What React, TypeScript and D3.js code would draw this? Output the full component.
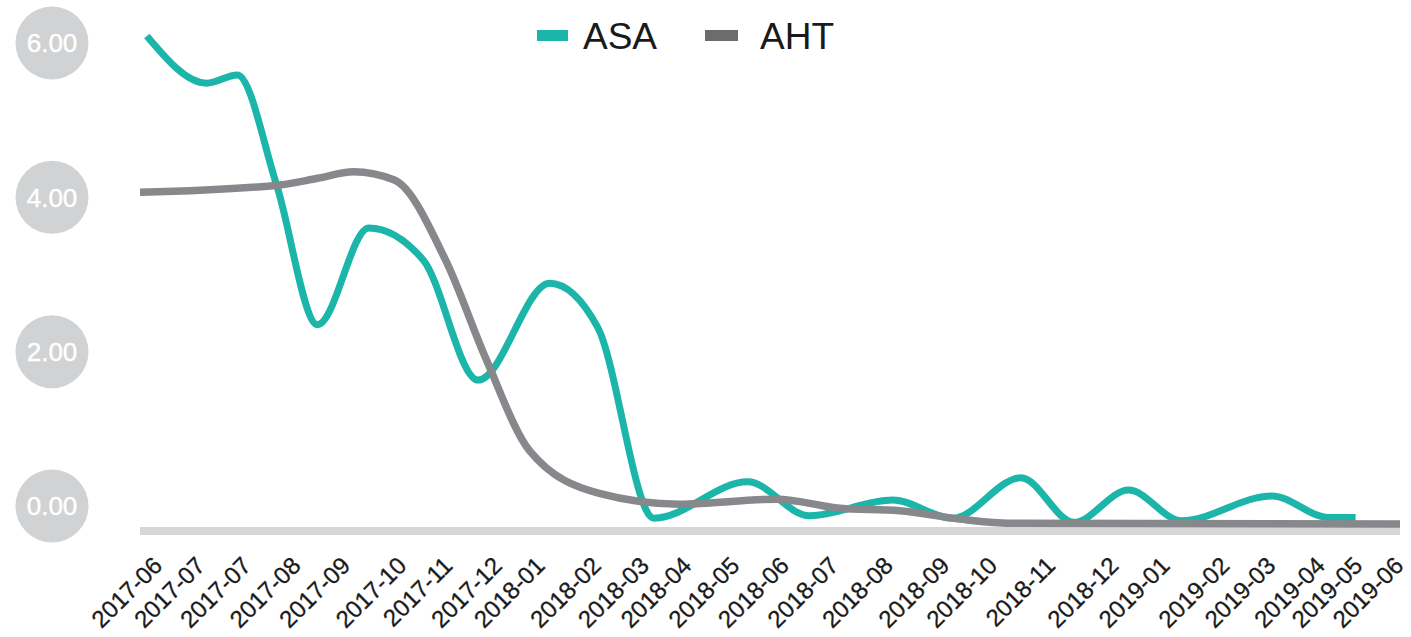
import React from "react";
import * as d3 from "d3";

// ---- data ----
const asaDates = [
  "2017-06-01", "2017-07-06", "2017-07-24", "2017-08-16", "2017-09-09",
  "2017-10-09", "2017-11-10", "2017-12-12", "2018-01-23", "2018-02-20",
  "2018-03-25", "2018-05-19", "2018-06-24", "2018-08-12", "2018-09-16",
  "2018-10-26", "2018-11-26", "2018-12-28", "2019-01-28", "2019-03-22",
  "2019-04-24", "2019-05-10",
];
const asaValues = [
  5.9, 5.33, 5.43, 4.1, 2.41,
  3.58, 3.19, 1.74, 2.91, 2.38,
  0.07, 0.51, 0.1, 0.29, 0.07,
  0.56, 0.02, 0.41, 0.04, 0.34,
  0.08, 0.08,
];
const ahtDates = [
  "2017-05-28", "2017-08-18", "2017-09-09", "2017-09-30", "2017-10-24",
  "2017-11-23", "2017-12-17", "2018-01-11", "2018-02-21", "2018-04-09",
  "2018-06-05", "2018-07-12", "2018-08-16", "2018-09-20", "2018-10-20",
  "2019-06-05",
];
const ahtValues = [
  4.01, 4.1, 4.18, 4.26, 4.16,
  3.19, 1.98, 0.89, 0.37, 0.24,
  0.3, 0.19, 0.16, 0.06, 0.01,
  0.0,
];
const tickDates = [
  "2017-06-08", "2017-07-03", "2017-07-30", "2017-08-28", "2017-09-26",
  "2017-10-29", "2017-11-25", "2017-12-24", "2018-01-18", "2018-02-20",
  "2018-03-20", "2018-04-14", "2018-05-12", "2018-06-10", "2018-07-09",
  "2018-08-10", "2018-09-12", "2018-10-10", "2018-11-13", "2018-12-20",
  "2019-01-19", "2019-02-23", "2019-03-22", "2019-04-20", "2019-05-12",
  "2019-06-05",
];
const yTickValues = [0, 2, 4, 6];
const seriesNames = ["ASA", "AHT"];
const seriesColors = ["#1bb5a9", "#87888b"];
const legendSwatchColors = ["#1bb5a9", "#6b6c6e"];

const W = 1411;
const H = 637;
const FONT = "'Liberation Sans', Arial, Helvetica, sans-serif";

const parse = d3.timeParse("%Y-%m-%d");
const fmt = d3.timeFormat("%Y-%m");

export default function App() {
  const x = d3
    .scaleTime()
    .domain([parse("2017-05-28") as Date, parse("2019-06-05") as Date])
    .range([140, 1400]);
  const y = d3.scaleLinear().domain([0, 6]).range([524, 27.8]);
  const yLabel = d3.scaleLinear().domain([0, 6]).range([506, 43]);

  const line = d3
    .line<[Date, number]>()
    .x((d) => x(d[0]))
    .y((d) => y(d[1]))
    .curve(d3.curveMonotoneX);

  const asa: [Date, number][] = asaDates.map((d, i) => [parse(d) as Date, asaValues[i]]);
  const aht: [Date, number][] = ahtDates.map((d, i) => [parse(d) as Date, ahtValues[i]]);
  const [x0, x1] = x.range();

  const legend = [
    { name: seriesNames[0], color: legendSwatchColors[0], sx: 537, sw: 31, tx: 583 },
    { name: seriesNames[1], color: legendSwatchColors[1], sx: 705, sw: 33, tx: 760 },
  ];

  return (
    <svg
      width={W}
      height={H}
      style={{ position: "absolute", left: 0, top: 0, background: "#fff" }}
      fontFamily={FONT}
    >
      {/* y tick bubbles */}
      {yTickValues.map((v) => (
        <g key={v} transform={`translate(52,${yLabel(v)})`}>
          <circle r={36.5} fill="#d1d2d4" />
          <text
            textAnchor="middle"
            dy="0.36em"
            fontSize={26}
            fill="#ffffff"
            stroke="#ffffff"
            strokeWidth={0.4}
          >
            {d3.format(".2f")(v)}
          </text>
        </g>
      ))}

      {/* baseline bar */}
      <rect x={x0} y={y(0) + 3} width={x1 - x0} height={8} fill="#d6d6d8" />

      {/* lines */}
      <path d={line(asa) || ""} fill="none" stroke={seriesColors[0]} strokeWidth={7} strokeLinejoin="round" />
      <path d={line(aht) || ""} fill="none" stroke={seriesColors[1]} strokeWidth={7.5} strokeLinejoin="round" />

      {/* x tick labels */}
      {tickDates.map((d, i) => {
        const px = x(parse(d) as Date) + 5;
        return (
          <text
            key={i}
            transform={`translate(${px},567) rotate(-45)`}
            textAnchor="end"
            fontSize={24}
            fill="#1a1a1a"
            stroke="#1a1a1a"
            strokeWidth={0.3}
          >
            {fmt(parse(d) as Date)}
          </text>
        );
      })}

      {/* legend */}
      {legend.map((l) => (
        <g key={l.name}>
          <rect x={l.sx} y={30} width={l.sw} height={11} fill={l.color} />
          <text x={l.tx} y={49} fontSize={37} fill="#1a1a1a">
            {l.name}
          </text>
        </g>
      ))}
    </svg>
  );
}
